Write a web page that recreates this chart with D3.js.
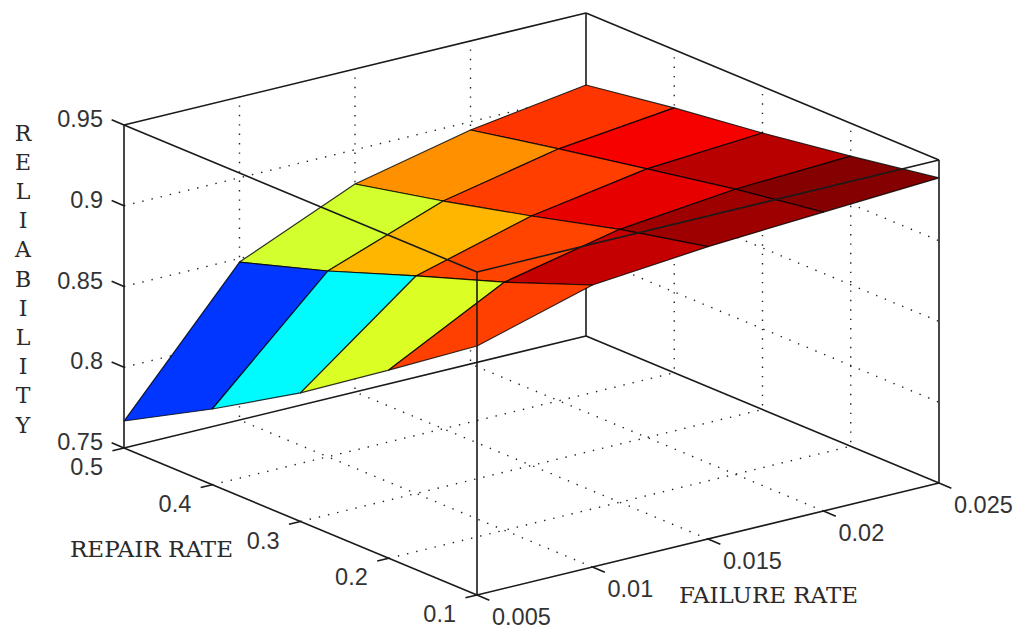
<!DOCTYPE html>
<html>
<head>
<meta charset="utf-8">
<script src="https://cdn.jsdelivr.net/npm/d3@7"></script>
<style>
  body { margin: 0; background: #fff; }
  svg { display: block; }
</style>
</head>
<body>
<div id="chart"></div>
<script>
const failureRate = [0.005, 0.01, 0.015, 0.02, 0.025];
const repairRate = [0.1, 0.2, 0.3, 0.4, 0.5];
const reliabilityTicks = [0.75, 0.8, 0.85, 0.9, 0.95];

const failureLabels = ['0.005', '0.01', '0.015', '0.02', '0.025'];
const repairLabels = ['0.1', '0.2', '0.3', '0.4', '0.5'];
const reliabilityLabels = ['0.75', '0.8', '0.85', '0.9', '0.95'];

// one row per repair rate, one value per failure rate
const rowRepair01 = [0.9042, 0.9246, 0.931, 0.9351, 0.9389];
const rowRepair02 = [0.8665, 0.9036, 0.919, 0.9265, 0.9296];
const rowRepair03 = [0.8296, 0.8847, 0.9045, 0.9163, 0.9212];
const rowRepair04 = [0.7969, 0.865, 0.891, 0.906, 0.914];
const rowRepair05 = [0.7667, 0.8478, 0.8788, 0.8949, 0.9054];
const reliability = [rowRepair01, rowRepair02, rowRepair03, rowRepair04, rowRepair05];

const w = 1018;
const h = 631;

// corners of the box on the page (front, right, left on the floor, and box height)
const front = [477, 595];
const right = [939, 483];
const left = [124, 448];
const boxH = 323;

const scaleF = d3.scaleLinear().domain([0.005, 0.025]).range([0, 1]);
const scaleR = d3.scaleLinear().domain([0.1, 0.5]).range([0, 1]);
const scaleZ = d3.scaleLinear().domain([0.75, 0.95]).range([0, boxH]);

const project = (f, r, z) => {
  const a = scaleF(f);
  const b = scaleR(r);
  return [
    front[0] + a * (right[0] - front[0]) + b * (left[0] - front[0]),
    front[1] + a * (right[1] - front[1]) + b * (left[1] - front[1]) - scaleZ(z),
  ];
};

// jet colormap, top end trimmed a little so the dark reds come out right
const zMin = d3.min(reliability.flat());
const zMax = 0.936;
const jet = d3
  .scaleLinear()
  .domain([0, 0.125, 0.375, 0.625, 0.875, 1].map((t) => zMin + t * (zMax - zMin)))
  .range(['#000080', '#0000ff', '#00ffff', '#ffff00', '#ff0000', '#800000']);

const svg = d3.select('#chart').append('svg').attr('width', w).attr('height', h);
const lineGen = d3.line();

const seg = (g, p, q) => g.append('path').attr('d', lineGen([p, q]));

const fMin = d3.min(failureRate);
const fMax = d3.max(failureRate);
const rMin = d3.min(repairRate);
const rMax = d3.max(repairRate);
const zLo = d3.min(reliabilityTicks);
const zHi = d3.max(reliabilityTicks);

// grid on the floor and the two back walls
const grid = svg.append('g').attr('fill', 'none').attr('stroke', '#222').attr('stroke-width', 1.4).attr('stroke-dasharray', '1.4 8');
failureRate.slice(1, -1).forEach((f) => {
  grid.append('path').attr('d', lineGen([project(f, rMin, zLo), project(f, rMax, zLo), project(f, rMax, zHi)]));
});
repairRate.slice(1, -1).forEach((r) => {
  grid.append('path').attr('d', lineGen([project(fMin, r, zLo), project(fMax, r, zLo), project(fMax, r, zHi)]));
});
reliabilityTicks.slice(1, -1).forEach((z) => {
  grid.append('path').attr('d', lineGen([project(fMin, rMax, z), project(fMax, rMax, z), project(fMax, rMin, z)]));
});

// box edges behind the surface
const back = svg.append('g').attr('fill', 'none').attr('stroke', '#1a1a1a').attr('stroke-width', 1.6);
seg(back, project(fMin, rMax, zLo), project(fMax, rMax, zLo));
seg(back, project(fMax, rMax, zLo), project(fMax, rMin, zLo));
seg(back, project(fMax, rMax, zLo), project(fMax, rMax, zHi));
seg(back, project(fMin, rMax, zHi), project(fMax, rMax, zHi));
seg(back, project(fMax, rMax, zHi), project(fMax, rMin, zHi));

// surface panels, far ones first
const panels = [];
for (let j = repairRate.length - 2; j >= 0; j--) {
  for (let i = failureRate.length - 2; i >= 0; i--) {
    panels.push({ i, j });
  }
}
svg
  .append('g')
  .selectAll('path')
  .data(panels)
  .enter()
  .append('path')
  .attr('d', ({ i, j }) =>
    lineGen([
      project(failureRate[i], repairRate[j], reliability[j][i]),
      project(failureRate[i + 1], repairRate[j], reliability[j][i + 1]),
      project(failureRate[i + 1], repairRate[j + 1], reliability[j + 1][i + 1]),
      project(failureRate[i], repairRate[j + 1], reliability[j + 1][i]),
    ]) + 'Z'
  )
  .attr('fill', ({ i, j }) => jet(reliability[j][i]))
  .attr('stroke', '#000')
  .attr('stroke-opacity', 0.8)
  .attr('stroke-width', 1.2)
  .attr('stroke-linejoin', 'round');

// box edges in front of the surface
const frontBox = svg.append('g').attr('fill', 'none').attr('stroke', '#1a1a1a').attr('stroke-width', 1.6);
seg(frontBox, project(fMin, rMin, zLo), project(fMin, rMax, zLo));
seg(frontBox, project(fMin, rMin, zLo), project(fMax, rMin, zLo));
seg(frontBox, project(fMin, rMin, zLo), project(fMin, rMin, zHi));
seg(frontBox, project(fMin, rMax, zLo), project(fMin, rMax, zHi));
seg(frontBox, project(fMax, rMin, zLo), project(fMax, rMin, zHi));
seg(frontBox, project(fMin, rMin, zHi), project(fMin, rMax, zHi));
seg(frontBox, project(fMin, rMin, zHi), project(fMax, rMin, zHi));

// ticks
const tickF = 0.0005;
const tickR = 0.014;
failureRate.forEach((f) => seg(frontBox, project(f, rMin, zLo), project(f, rMin - tickR, zLo)));
repairRate.forEach((r) => seg(frontBox, project(fMin, r, zLo), project(fMin - tickF, r, zLo)));
reliabilityTicks.forEach((z) => seg(frontBox, project(fMin, rMax, z), project(fMin, rMax + tickR, z)));

// tick labels
const labels = svg
  .append('g')
  .attr('font-family', '"Liberation Sans", Arial, sans-serif')
  .attr('font-size', 23.5)
  .attr('fill', '#333')
  .attr('dominant-baseline', 'central');

const addLabels = (vals, txt, pos, anchor, dx, dy) => {
  labels
    .append('g')
    .attr('text-anchor', anchor)
    .selectAll('text')
    .data(vals)
    .enter()
    .append('text')
    .attr('x', (d) => pos(d)[0] + dx)
    .attr('y', (d) => pos(d)[1] + dy)
    .text((d, n) => txt[n]);
};
addLabels(failureRate, failureLabels, (f) => project(f, rMin, zLo), 'start', 15, 22);
addLabels(repairRate, repairLabels, (r) => project(fMin, r, zLo), 'end', -21, 19);
addLabels(reliabilityTicks, reliabilityLabels, (z) => project(fMin, rMax, z), 'end', -21, -6);

// axis titles
const titles = svg
  .append('g')
  .attr('font-family', '"DejaVu Serif", "Liberation Serif", serif')
  .attr('font-size', 22)
  .attr('fill', '#2a2a2a');
titles.append('text').attr('x', 70).attr('y', 557).attr('textLength', 163).attr('lengthAdjust', 'spacingAndGlyphs').text('REPAIR RATE');
titles.append('text').attr('x', 679).attr('y', 603).attr('textLength', 179).attr('lengthAdjust', 'spacingAndGlyphs').text('FAILURE RATE');
const yTitle = 'RELIABILITY'.split('');
const yLetter = d3.scalePoint().domain(d3.range(yTitle.length)).range([133, 425]);
titles
  .append('g')
  .attr('text-anchor', 'middle')
  .attr('dominant-baseline', 'central')
  .selectAll('text')
  .data(yTitle)
  .enter()
  .append('text')
  .attr('x', 23)
  .attr('y', (d, n) => yLetter(n))
  .text((d) => d);
</script>
</body>
</html>
